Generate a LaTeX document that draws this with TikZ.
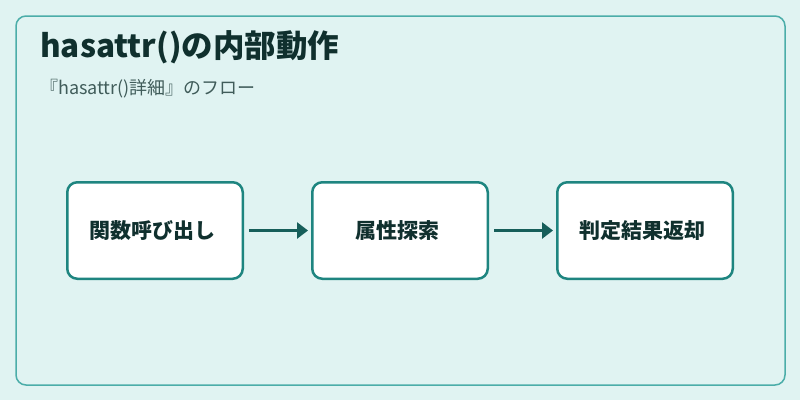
\documentclass[tikz,border=0pt]{standalone}
\usepackage{fontspec}
\setmainfont{Noto Sans CJK JP}
\usepackage{tikz}
\usetikzlibrary{
  arrows.meta,
  positioning
}
\definecolor{PanelFill}{HTML}{E0F3F2}
\definecolor{PanelEdge}{HTML}{4BADA9}
\definecolor{StepEdge}{HTML}{1E8580}
\definecolor{FlowDark}{HTML}{165E5A}
\definecolor{TitleInk}{HTML}{10302E}
\definecolor{NoteInk}{HTML}{405C5A}
\tikzset{
  panel/.style={
    draw=PanelEdge,
    line width=1.5pt,
    rounded corners=10pt,
    fill=PanelFill
  },
  stepbox/.style={
    draw=StepEdge,
    line width=2.5pt,
    rounded corners=10pt,
    fill=white,
    text=TitleInk,
    minimum width=175.5pt,
    minimum height=96.5pt,
    align=center,
    font=\fontsize{21}{25}\selectfont\bfseries
  },
  flow/.style={
    -{Triangle[length=11pt,width=16pt]},
    draw=FlowDark,
    line width=3pt,
    shorten <=5pt,
    shorten >=3pt
  }
}

\begin{document}
\begin{tikzpicture}[x=1pt,y=-1pt]

  \fill[PanelFill] (0,0) rectangle (800,400);
  \draw[panel] (16,16) rectangle (785,385);

  \node[
    anchor=west,
    inner sep=0pt,
    text=TitleInk,
    font=\fontsize{31.5}{36}\selectfont\bfseries
  ] at (40,47) (title) {
    hasattr()の内部動作
  };

  \node[
    anchor=west,
    inner sep=0pt,
    text=NoteInk,
    font=\fontsize{18}{22}\selectfont
  ] at (40,89) (subtitle) {
    『hasattr()詳細』のフロー
  };

  \node[stepbox] at (155,230.5) (call) {
    関数呼び出し
  };

  \node[stepbox] at (400,230.5) (search) {
    属性探索
  };

  \node[stepbox] at (645,230.5) (result) {
    判定結果返却
  };

  \draw[flow] (call) -- (search);
  \draw[flow] (search) -- (result);

\end{tikzpicture}
\end{document}
